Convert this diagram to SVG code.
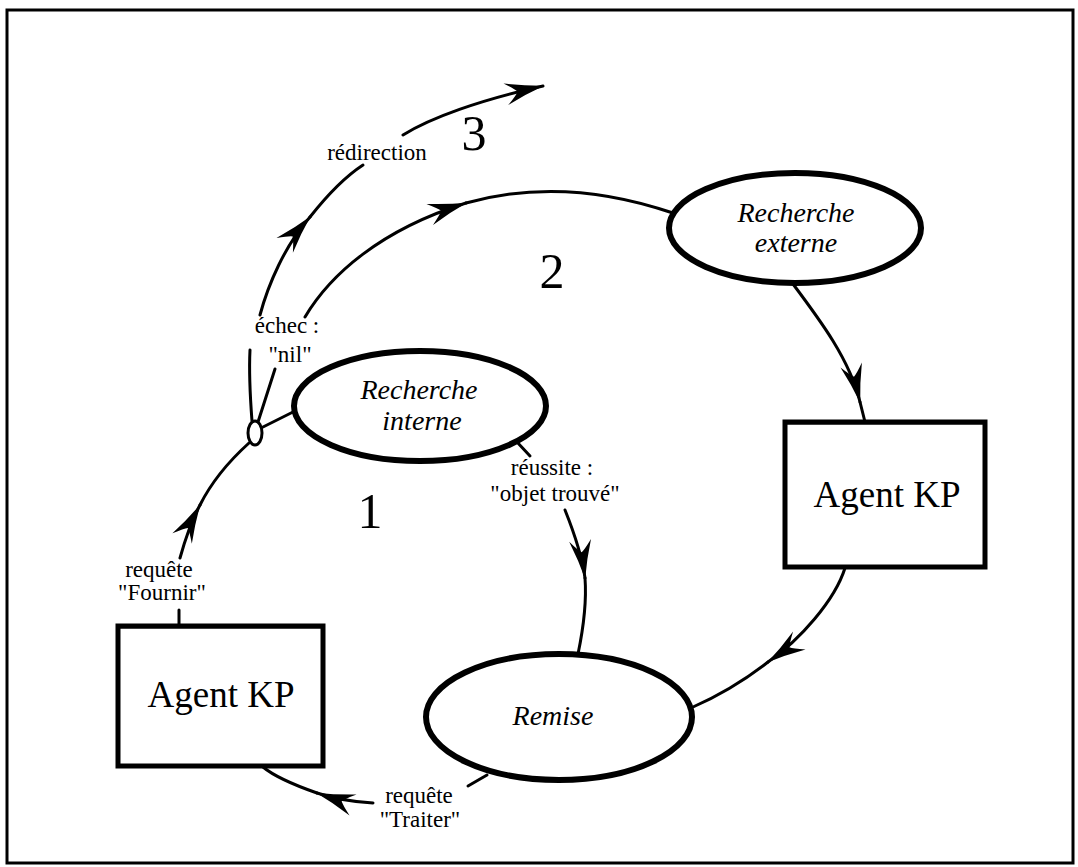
<svg xmlns="http://www.w3.org/2000/svg" width="1078" height="867" viewBox="0 0 1078 867">
<defs>
<style>
.frame{fill:none;stroke:#000;stroke-width:3}
.node{fill:#fff;stroke:#000;stroke-width:6}
.box{fill:#fff;stroke:#000;stroke-width:5}
.conn{fill:none;stroke:#000;stroke-width:3;stroke-linecap:round}
.lbl{font-family:"Liberation Serif","Times New Roman",serif;font-size:23px;text-anchor:middle;fill:#000}
.nt{font-family:"Liberation Serif","Times New Roman",serif;font-size:28px;font-style:italic;text-anchor:middle;fill:#000}
.ag{font-family:"Liberation Serif","Times New Roman",serif;font-size:37px;text-anchor:middle;fill:#000}
.num{font-family:"Liberation Serif","Times New Roman",serif;font-size:50px;text-anchor:middle;fill:#000}
</style>
<marker id="arr" markerUnits="userSpaceOnUse" viewBox="-40 -12 42 24" refX="0" refY="0" markerWidth="42" markerHeight="24" orient="auto" overflow="visible">
<path d="M1,0 Q-18,-4 -38,-11 Q-28,-3 -26,0 Q-28,3 -38,11 Q-18,4 1,0 Z" fill="#000"/>
</marker>
</defs>
<rect class="frame" x="7" y="10" width="1066" height="853"/>

<g id="connectors">
<!-- redirection (3) -->
<path class="conn" d="M252,421 C250,395 249,370 250,350"/>
<path class="conn" d="M260,315 C268,285 285,245 310,217" marker-end="url(#arr)"/>
<path class="conn" d="M310,217 C325,198 343,178 363,165"/>
<path class="conn" d="M403,135 C430,118 480,100 543,86" marker-end="url(#arr)"/>
<!-- echec (2) -->
<path class="conn" d="M258,422 L275,369"/>
<path class="conn" d="M305,317 C330,275 380,230 466,203" marker-end="url(#arr)"/>
<path class="conn" d="M466,203 C530,185 600,188 673,213"/>
<!-- externe to agent -->
<path class="conn" d="M793,284 C820,320 850,360 860,402" marker-end="url(#arr)"/>
<path class="conn" d="M860,402 L865,422"/>
<!-- agent to remise -->
<path class="conn" d="M845,568 C835,600 800,640 768,662" marker-end="url(#arr)"/>
<path class="conn" d="M768,662 C745,680 720,695 693,707"/>
<!-- reussite -->
<path class="conn" d="M517,442 L530,456"/>
<path class="conn" d="M565,510 C573,530 582,555 585,578" marker-end="url(#arr)"/>
<path class="conn" d="M585,578 C587,605 583,630 578,654"/>
<!-- traiter -->
<path class="conn" d="M487,775 L468,786"/>
<path class="conn" d="M373,803 C355,802 335,799 317,793" marker-end="url(#arr)"/>
<path class="conn" d="M317,793 C297,786 275,777 263,767"/>
<!-- fournir -->
<path class="conn" d="M179,610 L179,626"/>
<path class="conn" d="M180,558 C185,540 192,520 200,505" marker-end="url(#arr)"/>
<path class="conn" d="M200,505 C210,485 228,462 249,443"/>
<!-- oval to interne -->
<path class="conn" d="M261,428 L293,412"/>
</g>

<g id="junction">
<ellipse cx="255" cy="433" rx="7" ry="12" fill="#fff" stroke="#000" stroke-width="3"/>
</g>

<g id="recherche-interne">
<ellipse class="node" cx="420" cy="406" rx="126" ry="55"/>
<text class="nt" x="419" y="399">Recherche</text>
<text class="nt" x="422" y="430">interne</text>
</g>

<g id="recherche-externe">
<ellipse class="node" cx="795" cy="228" rx="126" ry="55"/>
<text class="nt" x="796" y="222">Recherche</text>
<text class="nt" x="796" y="252">externe</text>
</g>

<g id="remise">
<ellipse class="node" cx="559" cy="717" rx="133" ry="63"/>
<text class="nt" x="553" y="725">Remise</text>
</g>

<g id="agent-right">
<rect class="box" x="785" y="422" width="200" height="145"/>
<line x1="783" y1="423" x2="987" y2="423" stroke="#000" stroke-width="3"/>
<text class="ag" x="887" y="507">Agent KP</text>
</g>

<g id="agent-left">
<rect class="box" x="118" y="626" width="205" height="140"/>
<line x1="116" y1="627" x2="325" y2="627" stroke="#000" stroke-width="3"/>
<text class="ag" x="221" y="707">Agent KP</text>
</g>

<g id="labels">
<text class="lbl" x="377" y="160">rédirection</text>
<text class="lbl" x="287" y="333">échec :</text>
<text class="lbl" x="290" y="362">"nil"</text>
<text class="lbl" x="552" y="475">réussite :</text>
<text class="lbl" x="555" y="501">"objet trouvé"</text>
<text class="lbl" x="159" y="577">requête</text>
<text class="lbl" x="162" y="600">"Fournir"</text>
<text class="lbl" x="419" y="803">requête</text>
<text class="lbl" x="420" y="827">"Traiter"</text>
<text class="num" x="474" y="150">3</text>
<text class="num" x="552" y="288">2</text>
<text class="num" x="370" y="528">1</text>
</g>
</svg>
